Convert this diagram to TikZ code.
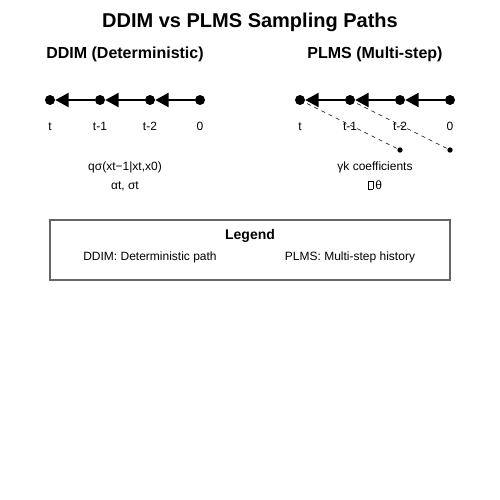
\documentclass[tikz,border=0pt]{standalone}
\usepackage{fontspec}
\setmainfont{Liberation Sans}
\usetikzlibrary{arrows.meta}
\newcommand{\missingglyph}{{\setlength\fboxsep{0pt}\setlength\fboxrule{0.3pt}\fbox{\phantom{\rule{0.4em}{0.65em}}}}\,}
\begin{document}
\begin{tikzpicture}[x=0.75pt,y=-0.75pt,
    dot/.style={circle,fill=black,inner sep=0pt,minimum size=7.5pt},
    smalldot/.style={circle,fill=black,inner sep=0pt,minimum size=4pt},
    step arrow/.style={line width=1.5pt,-{Triangle[length=10pt,width=10.5pt]}},
    lbl/.style={font=\fontsize{9}{11}\selectfont,text height=1.6ex,text depth=0.4ex},
    heading/.style={font=\bfseries\fontsize{12}{14}\selectfont,text height=1.6ex,text depth=0.4ex}]
    \useasboundingbox (0,0) rectangle (500,500);
    \node[font=\bfseries\fontsize{15}{18}\selectfont,text height=1.6ex,text depth=0.4ex] (title) at (250,23) {DDIM vs PLMS Sampling Paths};
    % DDIM
    \node[heading] (ddimhead) at (125,54) {DDIM (Deterministic)};
    \foreach \i/\x/\t in {0/50/t,1/100/t-1,2/150/t-2,3/200/0}{
        \node[dot] (d\i) at (\x,100) {};
        \node[lbl] (dl\i) at (\x,126) {\t};
    }
    \draw[step arrow] (d1) -- (d0);
    \draw[step arrow] (d2) -- (d1);
    \draw[step arrow] (d3) -- (d2);
    \node[lbl] (ddimq) at (125,166) {qσ(xt−1|xt,x0)};
    \node[lbl] (ddimparam) at (125,185) {αt, σt};
    % PLMS
    \node[heading] (plmshead) at (375,54) {PLMS (Multi-step)};
    \foreach \i/\x/\t in {0/300/t,1/350/t-1,2/400/t-2,3/450/0}{
        \node[dot] (p\i) at (\x,100) {};
        \node[lbl] (pl\i) at (\x,126) {\t};
    }
    \node[smalldot] (h0) at (400,150) {};
    \node[smalldot] (h1) at (450,150) {};
    \draw[dashed,thin] (p0.center) -- (h0);
    \draw[dashed,thin] (p1.center) -- (h1);
    \draw[step arrow] (p1) -- (p0);
    \draw[step arrow] (p2) -- (p1);
    \draw[step arrow] (p3) -- (p2);
    \node[lbl] (plmsgamma) at (375,166) {γk coefficients};
    \node[lbl] (plmseps) at (375,185) {\missingglyph θ};
    % legend
    \draw[draw=black!60,line width=0.9pt] (50,220) rectangle (450,280);
    \node[font=\bfseries\fontsize{10.5}{12}\selectfont,text height=1.6ex,text depth=0.4ex] (legtitle) at (250,235) {Legend};
    \node[lbl] (legddim) at (150,256) {DDIM: Deterministic path};
    \node[lbl] (legplms) at (350,256) {PLMS: Multi-step history};
\end{tikzpicture}
\end{document}
